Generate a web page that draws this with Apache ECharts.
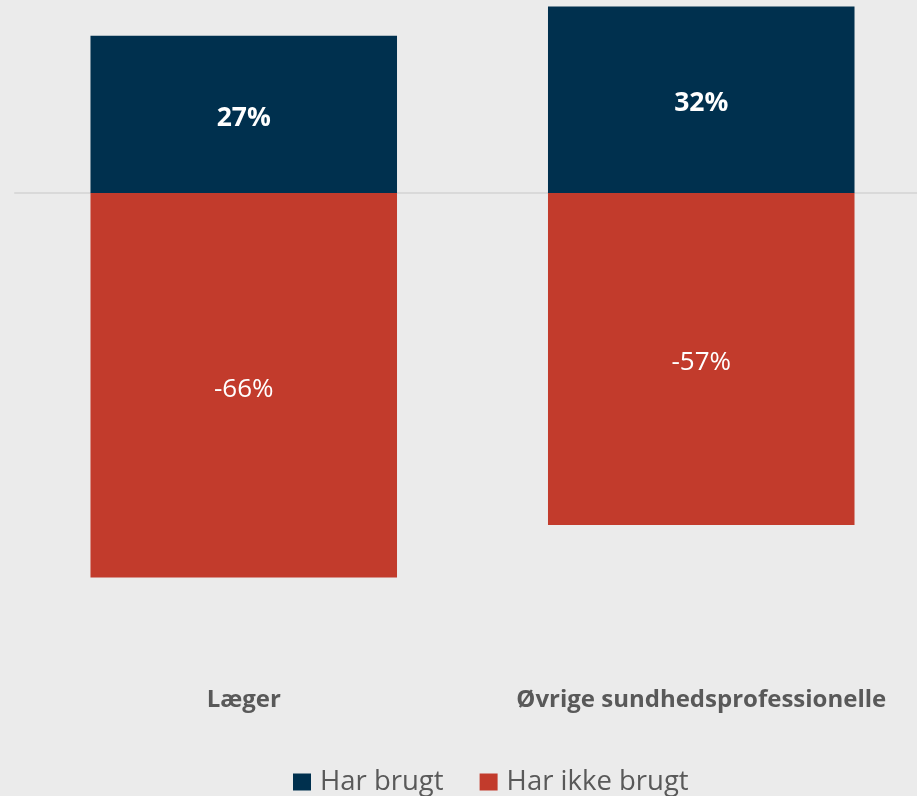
<!DOCTYPE html>
<html>
<head>
<meta charset="utf-8">
<script src="https://cdn.jsdelivr.net/npm/echarts@6/dist/echarts.min.js"></script>
<style>
  html, body { margin: 0; padding: 0; background: #ebebeb; }
  #chart { width: 917px; height: 796px; }
</style>
</head>
<body>
<div id="chart"></div>
<script>
// Groups and shares (percent) of those who have / have not used it
const categories = ['Læger', 'Øvrige sundhedsprofessionelle'];
const harBrugt = [27, 32];
const harIkkeBrugt = [-66, -57];

const NAVY = '#00304e';
const RED = '#c23b2c';
const FONT = '"Open Sans", "Liberation Sans", sans-serif';

const chart = echarts.init(document.getElementById('chart'));

chart.setOption({
  backgroundColor: '#ebebeb',
  animation: false,
  grid: { left: 15, width: 915, top: 6.5, bottom: 137, outerBoundsMode: 'none', containLabel: false },
  legend: {
    data: ['Har brugt', 'Har ikke brugt'],
    left: 293,
    top: 768,
    padding: 0,
    itemWidth: 18,
    itemHeight: 17,
    itemGap: 36,
    icon: 'rect',
    textStyle: { color: '#595959', fontFamily: FONT, fontSize: 27.5, padding: [0, 0, 0, 4] }
  },
  xAxis: [
    {
      type: 'category',
      data: categories,
      position: 'bottom',
      axisLine: { show: false, onZero: false },
      axisTick: { show: false },
      axisLabel: {
        interval: 0,
        hideOverlap: false,
        color: '#595959',
        fontFamily: FONT,
        fontWeight: 'bold',
        fontSize: 24,
        margin: 29
      }
    },
    {
      // zero baseline
      type: 'category',
      data: categories,
      position: 'top',
      axisLine: { show: true, onZero: true, lineStyle: { color: '#d9d9d9', width: 2 } },
      axisTick: { show: false },
      axisLabel: { show: false }
    }
  ],
  yAxis: {
    type: 'value',
    min: -80,
    max: 32,
    show: false,
    splitLine: { show: false }
  },
  series: [
    {
      name: 'Har brugt',
      type: 'bar',
      stack: 'total',
      xAxisIndex: 0,
      barCategoryGap: '33%',
      data: harBrugt,
      itemStyle: { color: NAVY },
      label: {
        show: true,
        position: 'inside',
        offset: [0, 4],
        color: '#ffffff',
        fontFamily: FONT,
        fontWeight: 'bold',
        fontSize: 26.5,
        formatter: p => p.value + '%'
      }
    },
    {
      name: 'Har ikke brugt',
      type: 'bar',
      stack: 'total',
      xAxisIndex: 0,
      barCategoryGap: '33%',
      data: harIkkeBrugt,
      itemStyle: { color: RED },
      label: {
        show: true,
        position: 'inside',
        offset: [0, 4],
        color: '#ffffff',
        fontFamily: FONT,
        fontSize: 26,
        formatter: p => p.value + '%'
      }
    }
  ]
});
</script>
</body>
</html>
